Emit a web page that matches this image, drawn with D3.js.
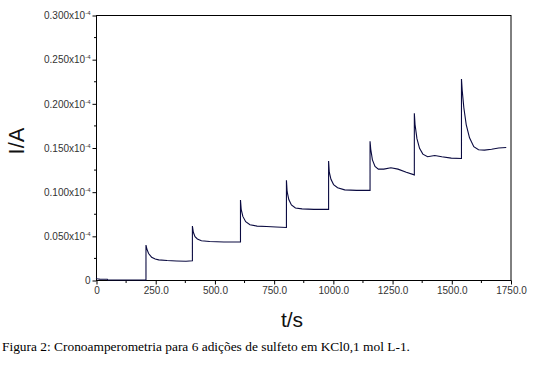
<!DOCTYPE html>
<html><head><meta charset="utf-8">
<script src="https://cdn.jsdelivr.net/npm/d3@7"></script>
<style>body{margin:0;background:#fff}svg{display:block}</style>
</head><body>
<svg id="c" width="548" height="367"></svg>
<script>
// time (s) and current (x10^-4 A)
const time = [0,5,15,30,48,50,211,
  211,215,222,235,250,265,300,340,380,407,
  407,411,418,428,445,480,540,610,
  610,613,620,632,650,680,720,760,804,
  804,807,814,825,842,870,920,982,
  982,985,992,1003,1020,1050,1100,1157,
  1157,1160,1167,1178,1192,1215,1245,1275,1310,1344,
  1344,1347,1355,1366,1380,1400,1430,1460,1500,1543,
  1543,1546,1553,1563,1577,1595,1615,1640,1670,1700,1732];
const current = [0.002,0.0015,0.001,0.0008,0.0008,0,0,
  0.0396,0.035,0.030,0.0257,0.0238,0.0228,0.022,0.0215,0.0212,0.0218,
  0.061,0.054,0.049,0.0465,0.0445,0.0435,0.043,0.043,
  0.0906,0.080,0.072,0.066,0.0625,0.061,0.0605,0.060,0.0595,
  0.113,0.100,0.091,0.085,0.0815,0.0805,0.080,0.080,
  0.1347,0.122,0.114,0.108,0.1045,0.102,0.1015,0.1015,
  0.157,0.148,0.136,0.1285,0.1255,0.1255,0.127,0.1255,0.122,0.119,
  0.1887,0.176,0.160,0.149,0.1425,0.1395,0.141,0.1395,0.138,0.1375,
  0.2275,0.215,0.195,0.176,0.161,0.151,0.1475,0.147,0.148,0.1495,0.150];
const xTicks = [0,250,500,750,1000,1250,1500,1750];
const xTickLabels = ["0","250.0","500.0","750.0","1000.0","1250.0","1500.0","1750.0"];
const yTicks = [0,0.05,0.10,0.15,0.20,0.25,0.30];
const yTickLabels = ["0","0.050x10","0.100x10","0.150x10","0.200x10","0.250x10","0.300x10"];
const xMinor = [125,375,625,875,1125,1375,1625];
const yMinor = [0.025,0.075,0.125,0.175,0.225,0.275];
const xTitle = "t/s", yTitle = "I/A";
const caption = "Figura 2: Cronoamperometria para 6 adições de sulfeto em KCl0,1 mol L-1.";

const L=96, R=510.5, T=15, B=280;
const svg = d3.select("#c");
const x = d3.scaleLinear().domain([0,1750]).range([L,R]);
const y = d3.scaleLinear().domain([0,0.3]).range([B,T]);

const font = "'Liberation Sans', Arial, sans-serif";

// frame
svg.append("rect").attr("x",L+0.5).attr("y",T+0.5).attr("width",R-L).attr("height",B-T)
  .attr("fill","none").attr("stroke","#000").attr("stroke-width",1);

// x axis
const gx = svg.append("g").attr("transform",`translate(0.5,${B+0.5})`);
gx.call(d3.axisBottom(x).tickValues(xTicks).tickSize(4).tickPadding(2)
  .tickFormat((d,i)=>xTickLabels[i]));
gx.select(".domain").remove();
gx.selectAll("text").attr("font-family",font).attr("font-size",10).attr("fill","#333");
gx.selectAll("line").attr("stroke","#000");
gx.selectAll(".minor").data(xMinor).enter().append("line")
  .attr("x1",d=>x(d)).attr("x2",d=>x(d)).attr("y1",0).attr("y2",2.5).attr("stroke","#000");

// y axis
const gy = svg.append("g").attr("transform",`translate(${L+0.5},0.5)`);
gy.call(d3.axisLeft(y).tickValues(yTicks).tickSize(4).tickPadding(2)
  .tickFormat(()=>""));
gy.select(".domain").remove();
gy.selectAll("line").attr("stroke","#000");
gy.selectAll(".tick text").each(function(d,i){
  const t = d3.select(this).attr("font-family",font).attr("font-size",10).attr("fill","#333");
  t.append("tspan").text(yTickLabels[i]);
  if(i>0) t.append("tspan").text("-4").attr("font-size",6).attr("dy",-4);
});
gy.selectAll(".minor").data(yMinor).enter().append("line")
  .attr("x1",-2.5).attr("x2",0).attr("y1",d=>y(d)).attr("y2",d=>y(d)).attr("stroke","#000");

// trace
const line = d3.line().x((d,i)=>x(time[i])).y((d,i)=>y(current[i]));
svg.append("path").datum(current).attr("d",line)
  .attr("fill","none").attr("stroke","#0a0a40").attr("stroke-width",1.1);

// titles
svg.append("text").attr("x",292).attr("y",327).attr("text-anchor","middle")
  .attr("font-family",font).attr("font-size",21).attr("fill","#111").text(xTitle);
svg.append("text").attr("transform","translate(24,141) rotate(-90)").attr("text-anchor","middle")
  .attr("font-family",font).attr("font-size",22).attr("fill","#111").text(yTitle);

// caption
svg.append("text").attr("x",2).attr("y",351)
  .attr("font-family","'Liberation Serif','Times New Roman',serif").attr("font-size",13.4)
  .attr("fill","#000").text(caption);
</script>
</body></html>
